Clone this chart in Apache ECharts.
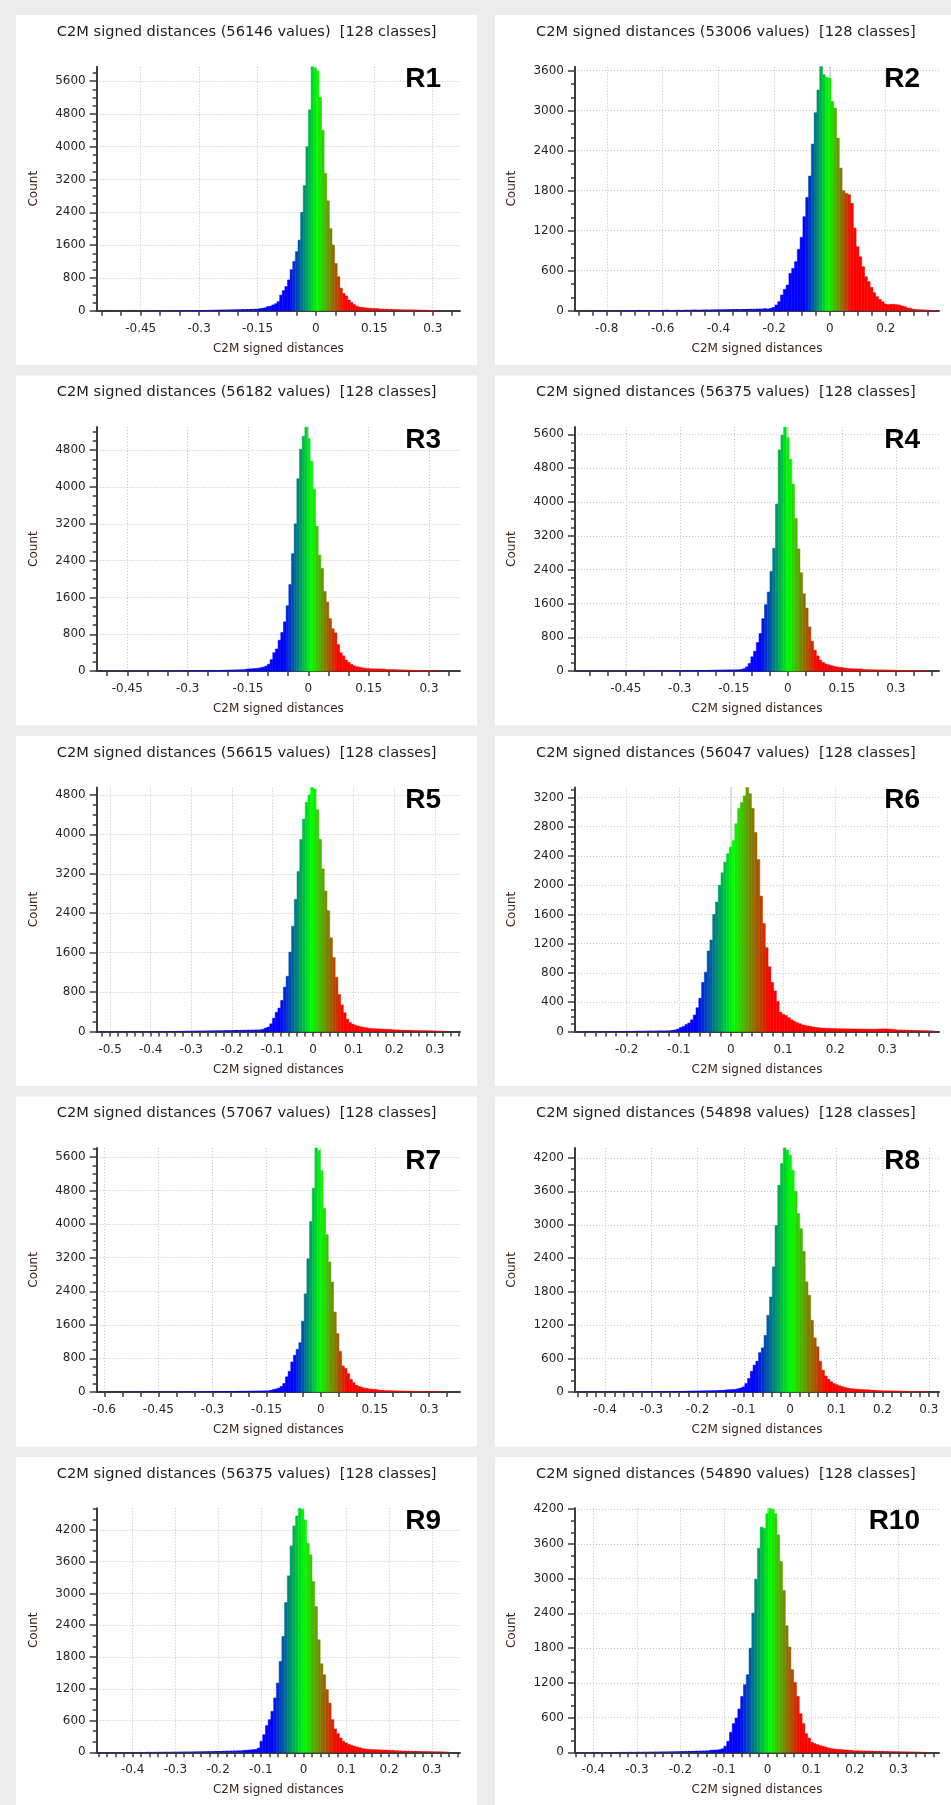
<!DOCTYPE html>
<html>
<head>
<meta charset="utf-8">
<script src="https://cdn.jsdelivr.net/npm/echarts@6/dist/echarts.min.js"></script>
<style>
  html, body { margin: 0; padding: 0; background: #ececec; }
  #main { width: 951px; height: 1805px; }
</style>
</head>
<body>
<div id="main"></div>
<script>
// histogram counts, 128 classes each
const r1Counts = [6,4,3,3,2,2,3,2,2,3, 3,4,3,4,4,5,4,5,6,5, 6,7,6,8,7,8,9,8,10,11, 10,12,13,12,14,15,16,15,17,18,
  19,20,21,22,24,25,26,28,29,31, 32,34,35,37,38,40,42,44,46,48, 50,60,70,100,110,140,170,220,380,490,
  590,750,1000,1200,1440,1720,2400,3050,4000,4900, 5950,5920,5850,5200,4400,3350,2680,2000,1600,1150,
  830,550,420,360,260,200,150,110,90,80, 70,62,58,55,52,50,48,46,44,42, 40,38,36,34,32,31,30,28,27,26,
  25,24,22,21,20,18,16,14]
const r2Counts = [3,2,4,3,2,3,5,4,3,4, 5,4,6,5,4,6,7,5,6,8, 10,12,9,8,7,9,8,7,9,10, 12,14,11,10,12,13,11,12,14,13,
  15,16,14,15,17,18,16,18,19,20, 20,21,22,22,23,24,25,24,25,26, 27,28,28,29,30,30,32,
  30,35,50,85,135,235,320,385,560,635,735,920,1100,
  1410,1700,2020,2500,2970,3310,3660,3540,3500,3490, 3140,3040,2590,2140,1800,1760,1740,1610,1240,960,
  810,660,510,435,350,270,210,170,135,100, 90,95,95,90,85,70,60,40,35,25, 22,20,18,16,14,12,10,8]
const r3Counts = [5,4,3,3,4,3,2,3,3,4, 4,3,5,4,4,5,5,6,5,6, 6,7,7,8,7,8,9,9,10,10, 11,12,12,13,14,14,15,16,17,18,
  19,20,21,22,23,25,26,27,29,30, 32,34,36,38,40,44,48,52,
  55,62,72,85,110,150,250,400,480,670,840,1070,
  1420,1880,2550,3200,4180,4820,5100,5300,5050,4560, 3950,3150,2520,2230,1730,1500,1140,920,830,575,
  400,330,240,190,145,115,95,85,70,60, 55,52,50,48,46,45,44,42,41,40, 38,36,34,32,30,28,26,25,24,22,
  20,19,18,16,14,12,10,8]
const r4Counts = [8,6,5,4,5,6,4,5,6,7, 6,5,6,7,8,7,6,7,8,9, 8,9,10,9,10,11,10,12,11,12, 13,12,14,15,14,16,17,16,18,19,
  20,21,22,23,24,25,26,27,28,30, 31,32,33,34,35,36,37,38,
  40,47,55,100,180,340,470,675,890,1240,1570,1870,
  2360,2905,3950,5230,5580,5770,5520,5010,4420,3610, 2890,2325,1830,1490,1045,705,495,360,260,205,
  170,150,130,115,100,90,80,70,63,58,
  55,52,50,48,46,44,42,40,38,36,35,34,33,32,30,29,28,27,26,25,24,23,22,21,20,18,15,12]
const r5Counts = [6,5,4,3,3,4,3,4,5,4, 5,4,5,6,5,6,6,7,6,7, 8,7,8,9,8,9,10,10,11,12, 12,13,14,14,15,16,17,18,18,19,
  20,21,22,23,24,25,26,27,28,29, 30,31,32,33,34,35,36,37,38,40, 45,70,90,155,270,390,475,630,900,1120,
  1610,2135,2680,3245,3895,4310,4650,4800,4950,4920, 4500,3900,3300,2850,2450,1900,1500,1100,750,540,
  380,250,180,150,125,110,95,85,75,65,
  60,56,53,50,48,46,44,42,40,38,36,34,32,31,30,28,27,26,25,24,22,21,20,18,16,14,12,10]
const r6Counts = [4,3,3,4,3,4,5,4,5,4, 5,6,5,6,7,6,7,8,7,8, 9,10,9,10,11,12,11,12,13,14,13,14,
  15,20,25,35,55,70,95,115,160,225,325,455,670,810,1100,1250,1600,1770,2000,2170,2315,2430,2520,2610,
  2840,3050,3130,3220,3335,3250,3050,2720,2350,1850,1475,1145,885,670,555,410,265,235,218,190,160,140,
  120,105,90,82,75,68,60,
  55,50,47,45,43,42,40,39,38,37, 36,36,35,35,34,34,33,33,32,32, 31,31,32,34,36,35,33,30,28,26,
  25,24,23,22,21,20,19,18,17,16, 15,14,12]
const r7Counts = [5,4,3,3,2,3,4,3,3,4, 3,4,4,5,4,5,6,5,6,7, 8,10,9,8,7,8,9,8,9,10, 10,11,12,11,12,13,14,13,14,15,
  15,16,17,17,18,19,20,20,21,22, 22,23,24,25,25,26,27,28,29,30,31,33,
  35,45,55,70,90,130,200,360,490,715,875,1015,1175,1685,2340,3175,4065,4860,5820,5760,
  5280,4380,3750,3100,2620,1905,1390,970,620,560,435,300,220,160,130,110,90,80,70,64,58,
  50,46,42,40,38,36,34,32,30,28,27,26,25,24,22,21,20,19,18,17,16,15,14,13,12]
const r8Counts = [4,3,3,4,3,2,3,4,3,3, 4,5,4,5,5,6,5,6,7,6, 7,8,7,8,9,8,9,10,9,10, 11,12,11,13,14,15,14,16,17,18,
  19,20,21,22,23,24,25,26,27,29, 30,32,33,35,37,39,42,
  45,55,70,90,150,240,370,480,550,705, 790,1015,1375,1705,2245,2990,3710,4100,4380,4340,
  4250,3980,3600,3200,2930,2525,1975,1735,1285,970, 810,550,390,287,227,180,150,130,110,95, 80,70,60,55,
  50,46,42,40,38,36,34,32,30,28,26,25,24,23,22,21,20,19,18,17,16,15,14,13,12,11,10]
const r9Counts = [6,5,4,4,5,4,3,4,5,4, 5,6,5,6,6,7,6,7,8,7, 8,9,8,9,10,9,10,11,10,12, 12,13,14,13,15,16,17,18,19,20,
  21,22,23,24,25,27,28,29,30,32, 33,35,37,39,40,
  45,50,55,80,207,333,503,616,773,1025, 1308,1716,2188,2829,3332,3898,4275,4464,4608,4590,
  4388,3948,3728,3225,2754,2125,1672,1465,1182,930, 616,440,352,270,207,176,150,130,115,100, 85,70,63,58,52,
  50,48,46,44,42,40,38,38,36,34,32,30,28,27,26,25,24,23,22,21,20,19,18,17,16,14,12,10]
const r10Counts = [5,4,3,4,3,4,5,4,3,4, 5,4,5,6,5,6,7,6,7,8, 7,8,9,8,10,9,11,10,12,11, 13,14,13,15,16,17,18,19,20,21,
  22,23,24,26,27,29,30,32,35,38,
  40,46,60,104,190,345,495,593,748,966, 1168,1340,1800,2405,2990,3525,3890,3870,4120,4215,
  4200,4120,3757,3296,2796,2186,1818,1427,1208,966, 667,495,322,247,173,150,132,115,104,90,
  75,65,58,52,48,44,40,37,35,33,31,
  30,29,28,27,26,25,24,23,22,21,20,19,18,17,16,15,14,13,12,11,10,9,8,7,6,5,4]

const countsList = [r1Counts, r2Counts, r3Counts, r4Counts, r5Counts, r6Counts, r7Counts, r8Counts, r9Counts, r10Counts]
const panelNames = ['R1', 'R2', 'R3', 'R4', 'R5', 'R6', 'R7', 'R8', 'R9', 'R10']
const valueTotals = [56146, 53006, 56182, 56375, 56615, 56047, 57067, 54898, 56375, 54890]
const classCount = 128

// first / last class edge of every histogram
const binRanges = [[-0.55, 0.31], [-0.9, 0.385], [-0.52, 0.33], [-0.58, 0.39], [-0.53, 0.33],
  [-0.29, 0.39], [-0.61, 0.34], [-0.46, 0.30], [-0.48, 0.34], [-0.44, 0.38]]
// visible x range of every plot
const xExtents = [[-0.563, 0.37], [-0.914, 0.391], [-0.526, 0.377], [-0.591, 0.42], [-0.533, 0.362],
  [-0.299, 0.399], [-0.621, 0.386], [-0.465, 0.322], [-0.484, 0.366], [-0.442, 0.393]]

const xLabelsList = [
  [-0.45, -0.3, -0.15, 0, 0.15, 0.3],
  [-0.8, -0.6, -0.4, -0.2, 0, 0.2],
  [-0.45, -0.3, -0.15, 0, 0.15, 0.3],
  [-0.45, -0.3, -0.15, 0, 0.15, 0.3],
  [-0.5, -0.4, -0.3, -0.2, -0.1, 0, 0.1, 0.2, 0.3],
  [-0.2, -0.1, 0, 0.1, 0.2, 0.3],
  [-0.6, -0.45, -0.3, -0.15, 0, 0.15, 0.3],
  [-0.4, -0.3, -0.2, -0.1, 0, 0.1, 0.2, 0.3],
  [-0.4, -0.3, -0.2, -0.1, 0, 0.1, 0.2, 0.3],
  [-0.4, -0.3, -0.2, -0.1, 0, 0.1, 0.2, 0.3]
]
const xMinorSteps = [0.05, 0.05, 0.05, 0.05, 0.02, 0.02, 0.05, 0.02, 0.02, 0.02]

const yLabelsList = [
  [0, 800, 1600, 2400, 3200, 4000, 4800, 5600],
  [0, 600, 1200, 1800, 2400, 3000, 3600],
  [0, 800, 1600, 2400, 3200, 4000, 4800],
  [0, 800, 1600, 2400, 3200, 4000, 4800, 5600],
  [0, 800, 1600, 2400, 3200, 4000, 4800],
  [0, 400, 800, 1200, 1600, 2000, 2400, 2800, 3200],
  [0, 800, 1600, 2400, 3200, 4000, 4800, 5600],
  [0, 600, 1200, 1800, 2400, 3000, 3600, 4200],
  [0, 600, 1200, 1800, 2400, 3000, 3600, 4200],
  [0, 600, 1200, 1800, 2400, 3000, 3600, 4200]
]
const yMinorSteps = [200, 200, 200, 200, 200, 100, 200, 200, 200, 200]

// blue -> green -> red colour scale limits
const colourRanges = [[-0.068, 0.075], [-0.09, 0.08], [-0.06, 0.075], [-0.075, 0.08], [-0.08, 0.075],
  [-0.065, 0.075], [-0.075, 0.075], [-0.075, 0.08], [-0.074, 0.078], [-0.065, 0.077]]

const FONT = '"DejaVu Sans", Verdana, sans-serif'
const TEXT = '#262626'
const AXIS = '#3c3c3c'
const GRIDLINE = '#c4c4c4'

function rampColour(v, lo, hi) {
  let t = (v - lo) / (hi - lo)
  t = Math.max(0, Math.min(1, t))
  let r, g, b
  if (t < 0.5) { const s = t / 0.5; r = 0; g = 255 * s; b = 255 * (1 - s) }
  else { const s = (t - 0.5) / 0.5; r = 255 * s; g = 255 * (1 - s); b = 0 }
  return 'rgb(' + Math.round(r) + ',' + Math.round(g) + ',' + Math.round(b) + ')'
}

function stepsBetween(lo, hi, step) {
  const out = []
  let k = Math.ceil(lo / step - 1e-9)
  while (k * step <= hi + 1e-9) { out.push(+(k * step).toFixed(4)); k++ }
  return out
}

const fmt = v => String(parseFloat((+v).toFixed(3)) || 0)

const grids = [], xAxes = [], yAxes = [], series = [], graphics = []

countsList.forEach((counts, i) => {
  const col = i % 2, row = Math.floor(i / 2)
  const gLeft = col ? 575 : 96.7
  const gWidth = col ? 364 : 363.3
  const gTop = 66.7 + row * 360.4
  const gHeight = 244
  const yMax = Math.max(...counts)
  const [lo, hi] = binRanges[i]
  const w = (hi - lo) / counts.length
  const [cLo, cHi] = colourRanges[i]
  const ext = xExtents[i]

  // panel background
  graphics.push({
    type: 'rect', z: -10,
    shape: { x: col ? 495 : 16, y: 15 + row * 360.5, width: col ? 456 : 461, height: 350 },
    style: { fill: '#ffffff' }
  })
  graphics.push({
    type: 'text', z: 10,
    x: col ? 725.8 : 246.7, y: gTop - 34.4,
    style: {
      text: 'C2M signed distances (' + valueTotals[i] + ' values)  [' + classCount + ' classes]',
      fill: '#1e1e1e', font: 'normal 14.6px ' + FONT,
      textAlign: 'center', textVerticalAlign: 'middle'
    }
  })
  graphics.push({
    type: 'text', z: 10,
    x: gLeft + gWidth - 19, y: gTop + 13,
    style: {
      text: panelNames[i], fill: '#000000', font: 'bold 28px "Liberation Sans", Arial, sans-serif',
      textAlign: 'right', textVerticalAlign: 'middle'
    }
  })

  grids.push({ left: gLeft, top: gTop, width: gWidth, height: gHeight })

  const xLabels = xLabelsList[i]
  xAxes.push({
    type: 'value', gridIndex: i, position: 'bottom', min: ext[0], max: ext[1],
    axisLine: { show: true, onZero: false, lineStyle: { color: AXIS, width: 2 } },
    axisTick: { show: true, customValues: xLabels, length: 5, lineStyle: { color: AXIS, width: 1.5 } },
    axisLabel: { customValues: xLabels, formatter: fmt, fontSize: 12, fontFamily: FONT, color: TEXT, margin: 12 },
    splitLine: { show: true, lineStyle: { color: GRIDLINE, type: [1, 2], width: 1 } },
    name: 'C2M signed distances', nameLocation: 'middle', nameGap: 32,
    nameTextStyle: { fontSize: 12, fontFamily: FONT, color: '#3b2418' }
  })
  xAxes.push({
    type: 'value', gridIndex: i, position: 'bottom', offset: 0, min: ext[0], max: ext[1],
    axisLine: { show: false, onZero: false },
    axisTick: { show: true, customValues: stepsBetween(ext[0], ext[1], xMinorSteps[i]), length: 5, lineStyle: { color: AXIS, width: 1.5 } },
    axisLabel: { show: false },
    splitLine: { show: false }
  })

  const yLabels = yLabelsList[i]
  yAxes.push({
    type: 'value', gridIndex: i, position: 'left', min: 0, max: yMax,
    axisLine: { show: true, onZero: false, lineStyle: { color: AXIS, width: 2 } },
    axisTick: { show: true, customValues: yLabels, length: 7, lineStyle: { color: AXIS, width: 1.5 } },
    axisLabel: { customValues: yLabels, formatter: v => String(v), fontSize: 12, fontFamily: FONT, color: TEXT, margin: 11 },
    splitLine: { show: true, lineStyle: { color: GRIDLINE, type: [1, 2], width: 1 } },
    name: 'Count', nameLocation: 'middle', nameGap: 57, nameRotate: 90,
    nameTextStyle: { fontSize: 12, fontFamily: FONT, color: '#3b2418' }
  })
  yAxes.push({
    type: 'value', gridIndex: i, position: 'left', offset: 0, min: 0, max: yMax,
    axisLine: { show: false, onZero: false },
    axisTick: { show: true, customValues: stepsBetween(0, yMax, yMinorSteps[i]), length: 4, lineStyle: { color: AXIS, width: 1.5 } },
    axisLabel: { show: false },
    splitLine: { show: false }
  })

  // zero reference line behind the bars
  series.push({
    type: 'line', xAxisIndex: 2 * i, yAxisIndex: 2 * i, z: 1, silent: true,
    symbol: 'none', data: [[0, 0], [0, yMax]],
    lineStyle: { color: '#c4c4c4', width: 1 }
  })

  series.push({
    type: 'custom', xAxisIndex: 2 * i, yAxisIndex: 2 * i, z: 2, silent: true,
    encode: { x: [0, 1], y: 2 },
    data: counts.map((c, k) => [lo + k * w, lo + (k + 1) * w, c]),
    renderItem: (params, api) => {
      const x0 = api.value(0), x1 = api.value(1), c = api.value(2)
      const a = api.coord([x0, c]), b = api.coord([x1, 0])
      const colour = rampColour((x0 + x1) / 2, cLo, cHi)
      const h = b[1] - a[1]
      return {
        type: 'rect',
        shape: { x: a[0], y: a[1], width: b[0] - a[0], height: h },
        style: h > 2 ? { fill: colour, stroke: colour, lineWidth: 0.5 } : { fill: colour }
      }
    }
  })
})

const chart = echarts.init(document.getElementById('main'), null, { renderer: 'canvas' })
chart.setOption({
  animation: false,
  backgroundColor: 'transparent',
  graphic: { elements: graphics },
  grid: grids,
  xAxis: xAxes,
  yAxis: yAxes,
  series: series
})
</script>
</body>
</html>
